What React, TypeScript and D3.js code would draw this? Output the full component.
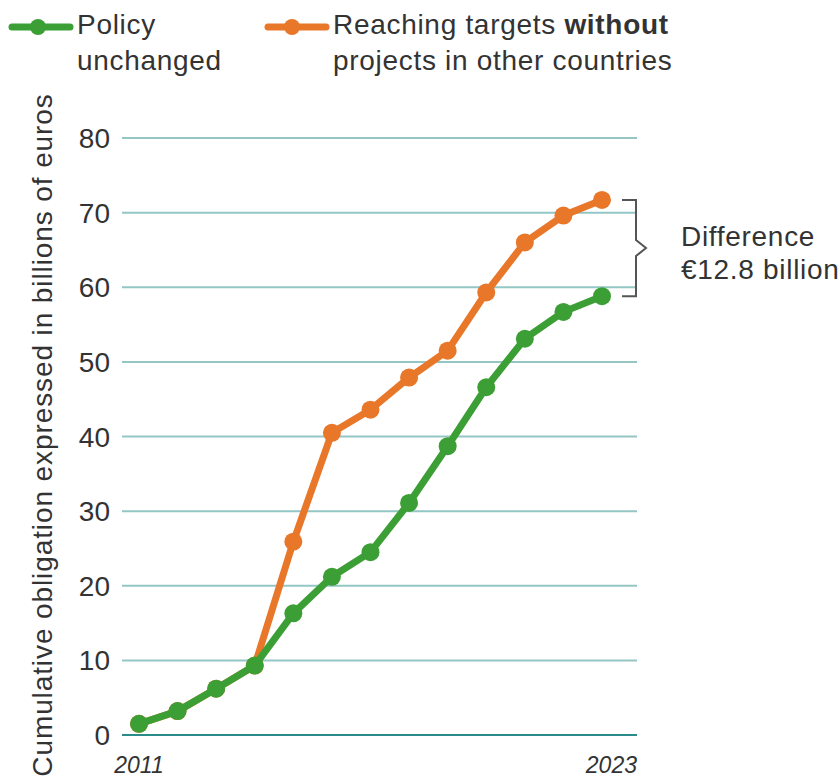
import React from 'react';
import * as d3 from 'd3';

const years = [2011, 2012, 2013, 2014, 2015, 2016, 2017, 2018, 2019, 2020, 2021, 2022, 2023];
const policyUnchanged = [1.5, 3.2, 6.2, 9.3, 16.3, 21.2, 24.5, 31.1, 38.7, 46.6, 53.1, 56.7, 58.8];
// same path as green until 2014, then splits off
const withoutProjects = [1.5, 3.2, 6.2, 9.3, 25.9, 40.5, 43.6, 47.9, 51.5, 59.3, 66.0, 69.6, 71.7];
const yTicks = [0, 10, 20, 30, 40, 50, 60, 70, 80];

const GREEN = '#3c9f35';
const ORANGE = '#e8772a';
const FONT = '"Liberation Sans", Arial, sans-serif';

export default function App() {
    const width = 840;
    const height = 778;

    const x = d3.scaleLinear().domain([2011, 2023]).range([139, 602]);
    const y = d3.scaleLinear().domain([0, 80]).range([735, 138]);

    const line = d3.line<number>()
        .x((d, i) => x(years[i]))
        .y(d => y(d));

    const lastYear = years[years.length - 1];
    const top = y(withoutProjects[withoutProjects.length - 1]);
    const bottom = y(policyUnchanged[policyUnchanged.length - 1]);
    const mid = (top + bottom) / 2;
    const bx = x(lastYear) + 34;

    const series = [
        { values: withoutProjects, color: ORANGE },
        { values: policyUnchanged, color: GREEN },
    ];

    const txt = { fontSize: 28, fill: '#333', letterSpacing: 0.7 };

    return (
        <svg width={width} height={height} style={{ position: 'absolute', left: 0, top: 0 }} fontFamily={FONT}>
            {/* legend */}
            <g>
                <line x1={12} x2={70} y1={27} y2={27} stroke={GREEN} strokeWidth={7} strokeLinecap="round" />
                <circle cx={38} cy={27} r={8} fill={GREEN} />
                <text x={77} y={34} {...txt}>Policy</text>
                <text x={77} y={70} {...txt}>unchanged</text>

                <line x1={268} x2={326} y1={27} y2={27} stroke={ORANGE} strokeWidth={7} strokeLinecap="round" />
                <circle cx={292} cy={27} r={8} fill={ORANGE} />
                <text x={333} y={34} {...txt}>Reaching targets <tspan fontWeight="bold">without</tspan></text>
                <text x={333} y={70} {...txt}>projects in other countries</text>
            </g>

            {/* grid */}
            {yTicks.map(t => (
                <g key={t}>
                    <line x1={122} x2={637} y1={y(t)} y2={y(t)}
                        stroke={t === 0 ? '#2b8b8b' : '#95c6c6'} strokeWidth={2} />
                    <text x={110} y={y(t) + 10} textAnchor="end" fontSize={28} fill="#333">{t}</text>
                </g>
            ))}

            <text transform={`translate(52, ${(95 + 775) / 2}) rotate(-90)`} textAnchor="middle"
                {...txt} letterSpacing={0.9}>Cumulative obligation expressed in billions of euros</text>

            <text x={x(2011)} y={773} textAnchor="middle" fontSize={23} fontStyle="italic" fill="#333">2011</text>
            <text x={637} y={773} textAnchor="end" fontSize={23} fontStyle="italic" fill="#333">2023</text>

            {/* lines */}
            {series.map(s => (
                <g key={s.color}>
                    <path d={line(s.values) || ''} fill="none" stroke={s.color} strokeWidth={7} strokeLinejoin="round" />
                    {s.values.map((v, i) => (
                        <circle key={i} cx={x(years[i])} cy={y(v)} r={9} fill={s.color} />
                    ))}
                </g>
            ))}

            {/* difference bracket */}
            <path d={`M${bx - 14},${top} H${bx} V${mid - 8} L${bx + 10},${mid} L${bx},${mid + 8} V${bottom} H${bx - 14}`}
                fill="none" stroke="#555" strokeWidth={2} />
            <text x={681} y={246} {...txt}>Difference</text>
            <text x={681} y={279} {...txt}>€12.8 billion</text>
        </svg>
    );
}
